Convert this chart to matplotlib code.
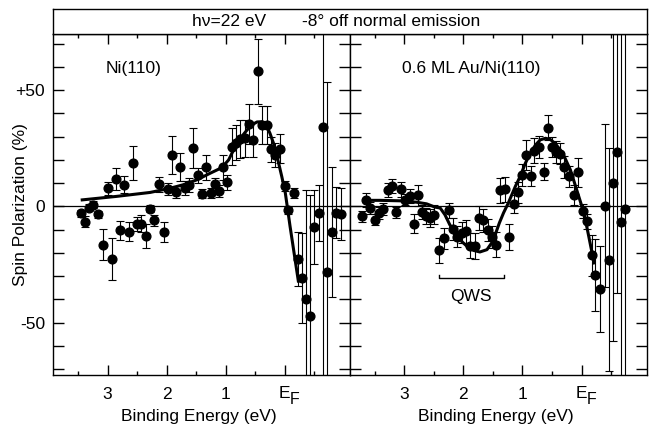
import matplotlib.pyplot as plt
from matplotlib.ticker import FixedLocator

plt.rcParams['font.family'] = ['Liberation Sans', 'DejaVu Sans']

# Ni(110): binding energy (eV), spin polarization (%), error
ni_be = [3.45, 3.38, 3.31, 3.24, 3.16, 3.08, 3.00, 2.93, 2.86, 2.79,
         2.72, 2.64, 2.57, 2.50, 2.44, 2.35, 2.28, 2.21, 2.13, 2.05,
         1.98, 1.91, 1.84, 1.77, 1.69, 1.62, 1.55, 1.47, 1.40, 1.33,
         1.25, 1.18, 1.11, 1.04, 0.97, 0.90, 0.83, 0.76, 0.68, 0.60,
         0.53, 0.46, 0.38, 0.30, 0.24, 0.16, 0.08, 0.00, -0.06, -0.15,
         -0.22, -0.29, -0.36, -0.43, -0.50, -0.58, -0.65, -0.72, -0.80, -0.87,
         -0.95]
ni_pol = [-3, -6.5, -0.5, 0.8, -3.3, -16.5, 7.8, -22.5, 11.8, -10.3,
          9.3, -10.8, 18.8, -7.4, -7.4, -12.8, -1, -6, 9.6, -11.1,
          7.4, 22.1, 6.1, 16.8, 7.8, 9.1, 25.1, 13.4, 5.4, 16.8,
          5.7, 9.7, 6.7, 16.8, 10.3, 25.7, 27.4, 29, 29.3, 35.4,
          28.6, 58.1, 35, 35, 24.6, 22.1, 24.8, 8.8, -1.7, 5.7,
          -22.6, -30.8, -40, -47.1, -8.8, -2.8, 34.3, -28.3, -11, -2.8,
          -3.3]
ni_err = [1.5, 2.5, 1.5, 1.5, 1.5, 6.7, 2.9, 9, 4.8, 4,
          3.6, 4, 7.3, 3, 3.5, 5.3, 1.5, 2.5, 3.2, 4.3,
          2.5, 8, 2.5, 6, 3, 3, 8.4, 3.2, 2, 5.4,
          2, 2.5, 2.5, 5.4, 3.2, 8, 7.5, 8.2, 8, 8.5,
          7.5, 14, 8, 8, 5.3, 5, 6.3, 2, 1.5, 2,
          11.5, 19.5, 47, 52, 16, 12, 110, 82, 28, 11,
          11]
ni_fit_be = [3.43, 2.85, 2.28, 1.94, 1.72, 1.49, 1.26, 1.12, 1.04, 0.95,
             0.88, 0.81, 0.73, 0.64, 0.56, 0.47, 0.39, 0.32, 0.25, 0.18,
             0.11, 0.05, -0.01, -0.05, -0.09, -0.23]
ni_fit_pol = [2.8, 4.3, 6.0, 7.8, 9.3, 11.4, 14.3, 16.0, 17.4, 20.0,
              23.6, 26.4, 30.0, 32.8, 35.0, 36.3, 36.4, 35.4, 31.4, 26.4,
              19.3, 12.8, 5.7, -1.4, -8.6, -32.1]

# 0.6 ML Au/Ni(110)
au_be = [3.72, 3.65, 3.57, 3.50, 3.42, 3.35, 3.28, 3.20, 3.13, 3.05,
         2.98, 2.90, 2.84, 2.76, 2.70, 2.63, 2.56, 2.50, 2.41, 2.33,
         2.25, 2.17, 2.10, 2.03, 1.95, 1.89, 1.81, 1.74, 1.66, 1.59,
         1.52, 1.45, 1.38, 1.30, 1.22, 1.15, 1.08, 1.01, 0.94, 0.86,
         0.80, 0.72, 0.64, 0.57, 0.50, 0.43, 0.36, 0.29, 0.21, 0.13,
         0.06, -0.02, -0.09, -0.17, -0.23, -0.31, -0.39, -0.46, -0.53, -0.60,
         -0.67, -0.74]
au_pol = [-4.3, 2.6, -0.7, -5.7, -2.8, -1.0, 7.1, 8.6, -2.6, 7.4,
          2.9, 4.6, -7.4, 4.7, -2.6, -4, -5, -3.6, -18.9, -13.8,
          -1.7, -9.7, -13.1, -11.4, -10.7, -16.9, -17.1, -5, -6, -10.3,
          -13.1, -16.4, 6.9, 7.4, -13.1, 1.1, 6.0, 13.6, 22.1, 13.1,
          24, 25.4, 15, 33.8, 25.7, 23.3, 22.6, 16.9, 12.9, 5,
          14.6, -2.1, -6.4, -21.1, -29.6, -35.7, 0.3, -22.9, 10, 23.6,
          -6.8, -1.1]
au_err = [2.5, 3, 2.5, 2.5, 2.5, 2.5, 3, 3, 2.5, 3.2,
          2.5, 3, 4, 4.7, 3, 3.5, 4, 4, 5.3, 4.7,
          3.2, 4.7, 4.5, 4.5, 5, 5.4, 5.7, 5, 5, 4.7,
          4.7, 5.4, 5.3, 5.4, 5.7, 4, 4.7, 4.7, 6.4, 4.3,
          5.3, 4.7, 3.6, 5.3, 4.3, 4.7, 4.5, 4.7, 4.5, 4.3,
          6.3, 3, 3.2, 9, 15.5, 18.5, 35, 48, 68, 61,
          85, 85]
au_fit_be = [3.67, 3.41, 3.07, 2.79, 2.62, 2.48, 2.39, 2.31, 2.23, 2.14,
             2.06, 1.94, 1.83, 1.72, 1.60, 1.52, 1.46, 1.39, 1.32, 1.24,
             1.12, 1.04, 0.95, 0.87, 0.78, 0.70, 0.61, 0.53, 0.45, 0.36,
             0.28, 0.19, 0.11, 0.03, -0.04, -0.12, -0.21]
au_fit_pol = [2.6, 2.6, 2.4, 1.8, 1.1, -0.3, -0.7, -3.6, -7.8, -11.4,
              -14.3, -17.1, -18.9, -19.6, -18.6, -15.7, -12.1, -7.1, -2.8, 1.4,
              8.6, 12.8, 18.6, 22.8, 26.4, 28.6, 29.3, 28.8, 27.1, 24.3,
              20.7, 15.7, 9.3, 2.8, -2.9, -12.8, -24.3]

be_ticks = [3, 2, 1, 0]
be_labels = ['3', '2', '1', '']   # E_F drawn by hand below
be_minor = [3.5, 2.5, 1.5, 0.5, -0.5]
pol_ticks = [-50, 0, 50]
pol_labels = ['-50', '0', '+50']
pol_minor = [-70, -60, -40, -30, -20, -10, 10, 20, 30, 40, 60, 70]

qws_lo, qws_hi, qws_y = 2.41, 1.32, -30.7

W, H = 651, 432
FS = 12.5
fig = plt.figure(figsize=(W / 100, H / 100), dpi=100)


def px_box(x0, y0, x1, y1):
    return [x0 / W, 1 - y1 / H, (x1 - x0) / W, (y1 - y0) / H]


ax_l = fig.add_axes(px_box(53.3, 34.3, 349.7, 375))
ax_r = fig.add_axes(px_box(349.7, 34.3, 646.7, 375))
ax_t = fig.add_axes(px_box(53.3, 9, 646.7, 34.3))


def style_panel(ax, ylabels):
    ax.set_xlim(3.92, -1.1)
    ax.set_ylim(-72.5, 74)
    ax.xaxis.set_major_locator(FixedLocator(be_ticks))
    ax.set_xticklabels(be_labels)
    ax.xaxis.set_minor_locator(FixedLocator(be_minor))
    ax.yaxis.set_major_locator(FixedLocator(pol_ticks))
    ax.yaxis.set_minor_locator(FixedLocator(pol_minor))
    ax.tick_params(which='both', direction='in', top=True, right=True,
                   width=1, labelsize=FS)
    ax.tick_params(axis='x', which='major', length=7.5, pad=8.5)
    ax.tick_params(axis='x', which='minor', length=3.2)
    ax.tick_params(axis='y', which='both', length=8, pad=6)
    if ylabels:
        ax.set_yticklabels(pol_labels)
    else:
        ax.tick_params(axis='y', labelleft=False)
    for s in ax.spines.values():
        s.set_linewidth(1)
    ax.axhline(0, color='k', lw=0.9, zorder=1)
    # Fermi level label: E with a big, low F
    ax.annotate('E', xy=(0, 0), xycoords=('data', 'axes fraction'),
                xytext=(-0.5, -18), textcoords='offset pixels',
                ha='center', va='center', fontsize=FS)
    ax.annotate('F', xy=(0, 0), xycoords=('data', 'axes fraction'),
                xytext=(10, -25), textcoords='offset pixels',
                ha='center', va='center', fontsize=FS - 1)


def draw(ax, be, pol, err, fit_be, fit_pol):
    ax.errorbar(be, pol, yerr=err, fmt='o', color='k', ms=6.3,
                elinewidth=0.8, capsize=3, capthick=0.8, zorder=3)
    ax.plot(fit_be, fit_pol, color='k', lw=2.2, zorder=4)


style_panel(ax_l, True)
style_panel(ax_r, False)
draw(ax_l, ni_be, ni_pol, ni_err, ni_fit_be, ni_fit_pol)
draw(ax_r, au_be, au_pol, au_err, au_fit_be, au_fit_pol)

ax_l.text(3.04, 59.3, 'Ni(110)', fontsize=FS, va='center', ha='left')
ax_r.text(3.03, 59.3, '0.6 ML Au/Ni(110)', fontsize=FS, va='center', ha='left')

# QWS bracket
ax_r.plot([qws_lo, qws_lo, qws_hi, qws_hi],
          [qws_y + 1.2, qws_y, qws_y, qws_y + 1.2], color='k', lw=1)
ax_r.text((qws_lo + qws_hi) / 2, -38.6, 'QWS', fontsize=FS,
          ha='center', va='center')

# title box
ax_t.set_xticks([])
ax_t.set_yticks([])
for s in ax_t.spines.values():
    s.set_linewidth(1)
fig.text(191.7 / W, 1 - 21 / H, 'h\u03bd=22 eV', fontsize=FS,
         ha='left', va='center')
fig.text(301.7 / W, 1 - 21 / H, '-8\u00b0 off normal emission', fontsize=FS,
         ha='left', va='center')

# axis labels
fig.text(198.5 / W, 1 - 416.7 / H, 'Binding Energy (eV)', fontsize=FS,
         ha='center', va='center')
fig.text(495.6 / W, 1 - 416.7 / H, 'Binding Energy (eV)', fontsize=FS,
         ha='center', va='center')
fig.text(21 / W, 1 - 205 / H, 'Spin Polarization (%)', fontsize=FS,
         ha='center', va='center', rotation=90)

fig.savefig('out.png', dpi=100)
